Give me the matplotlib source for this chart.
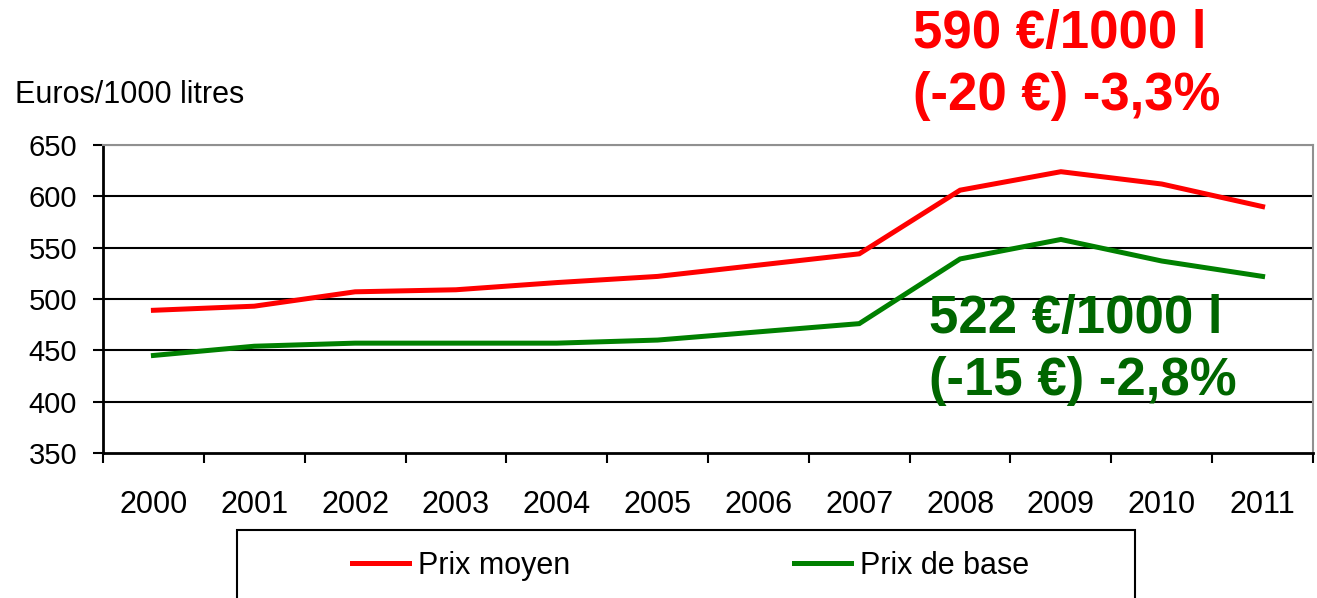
import matplotlib
matplotlib.use("Agg")
import matplotlib.pyplot as plt
from matplotlib.patches import Rectangle

years = ["2000", "2001", "2002", "2003", "2004", "2005", "2006", "2007", "2008", "2009", "2010", "2011"]
prix_moyen = [489, 493, 507, 509, 516, 522, 533, 544, 606, 624, 612, 590]
prix_base = [445, 454, 457, 457, 457, 460, 468, 476, 539, 558, 537, 522]
series_labels = ["Prix moyen", "Prix de base"]
yticks = [350, 400, 450, 500, 550, 600, 650]
annot_red = ["590 €/1000 l", "(-20 €) -3,3%"]
annot_green = ["522 €/1000 l", "(-15 €) -2,8%"]

plt.rcParams['font.family'] = ['Liberation Sans', 'DejaVu Sans']

W, H = 1317, 598
fig = plt.figure(figsize=(W / 100, H / 100), dpi=100)
ax = fig.add_axes([103 / W, 1 - 453 / H, (1313 - 103) / W, (453 - 145) / H])

x = list(range(len(years)))
l1, = ax.plot(x, prix_moyen, color='#FF0000', lw=3.6, solid_joinstyle='miter', label=series_labels[0])
l2, = ax.plot(x, prix_base, color='#008000', lw=3.6, solid_joinstyle='miter', label=series_labels[1])

ax.set_xlim(-0.5, len(years) - 0.5)
ax.set_ylim(350, 650)
ax.set_yticks(yticks)
ax.set_yticklabels([str(v) for v in yticks], fontsize=21)
ax.set_xticks([i - 0.5 for i in range(len(years) + 1)])
ax.set_xticklabels([])
ax.set_xticks(x, minor=True)
ax.set_xticklabels(years, minor=True, fontsize=22)
ax.tick_params(axis='x', which='minor', length=0, pad=26.5)
ax.tick_params(axis='x', which='major', length=7.2, width=1.5, direction='out')
ax.tick_params(axis='y', length=7.2, width=1.5, direction='out', pad=11.5)

for v in yticks[1:-1]:
    ax.axhline(v, color='black', lw=1.5, zorder=1)
ax.axhline(650, color='#808080', lw=1.5, zorder=1)

for s in ['left', 'bottom']:
    ax.spines[s].set_color('black')
    ax.spines[s].set_linewidth(2)
for s in ['top', 'right']:
    ax.spines[s].set_color('#909090')
    ax.spines[s].set_linewidth(1.5)

fig.text(15 / W, 1 - 103 / H, "Euros/1000 litres", fontsize=22, va='baseline', ha='left')

fig.text(913 / W, 1 - 48 / H, annot_red[0], fontsize=38, fontweight='bold', color='#FF0000', va='baseline')
fig.text(913 / W, 1 - 110 / H, annot_red[1], fontsize=38, fontweight='bold', color='#FF0000', va='baseline')
fig.text(929 / W, 1 - 333 / H, annot_green[0], fontsize=38, fontweight='bold', color='#006600', va='baseline')
fig.text(929 / W, 1 - 395 / H, annot_green[1], fontsize=38, fontweight='bold', color='#006600', va='baseline')

fig.patches.append(Rectangle((237 / W, -0.05), (1135 - 237) / W, 0.05 + (598 - 530) / H,
                             transform=fig.transFigure, fill=False, edgecolor='black', lw=1.5))
fig.legend(handles=[l1, l2], loc='center left', bbox_to_anchor=(352 / W, 1 - 566 / H),
           ncol=2, frameon=False, fontsize=22, handlelength=1.87, handletextpad=0.3,
           columnspacing=7.3, borderpad=0, borderaxespad=0)

fig.savefig("out.png", dpi=100)
